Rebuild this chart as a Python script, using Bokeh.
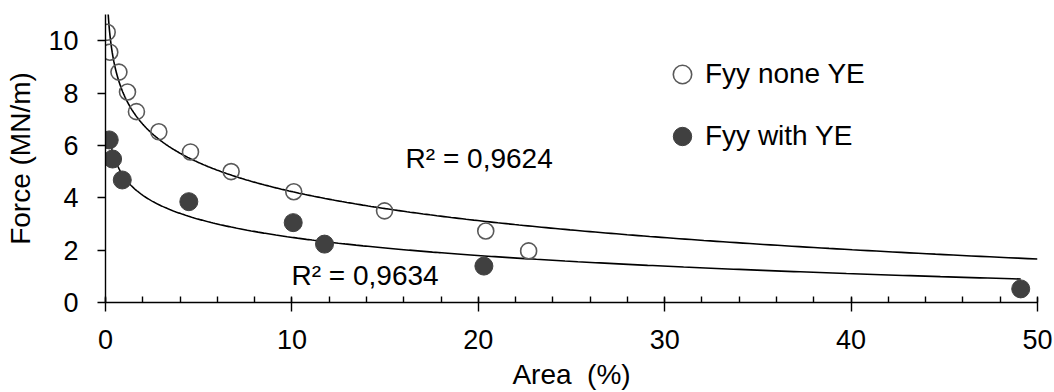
import numpy as np
from bokeh.plotting import figure
from bokeh.models import (Range1d, SingleIntervalTicker, Legend, LegendItem,
                          Label, ColumnDataSource)
from bokeh.embed import file_html
from bokeh.resources import INLINE

# ---- data ----
none_x = [0.09, 0.23, 0.72, 1.18, 1.66, 2.86, 4.56, 6.74, 10.1, 14.97, 20.4, 22.7]
none_y = [10.32, 9.56, 8.80, 8.04, 7.29, 6.52, 5.75, 5.00, 4.23, 3.50, 2.73, 1.97]
with_x = [0.20, 0.38, 0.90, 4.47, 10.07, 11.75, 20.3, 49.1]
with_y = [6.21, 5.48, 4.68, 3.85, 3.05, 2.23, 1.39, 0.52]

# logarithmic trendlines y = a*ln(x) + b (as shown in the picture)
trend_none = [-1.60, 7.92]
trend_with = [-1.00, 4.79]
r2_labels = ["R² = 0,9624", "R² = 0,9634"]

x_ticks_interval = 10
y_ticks_interval = 2

FONT = "Liberation Sans"

p = figure(width=1054, height=392, output_backend="svg", toolbar_location=None,
           x_range=Range1d(0, 50), y_range=Range1d(0, 11),
           min_border_left=105, min_border_right=17,
           min_border_top=14, min_border_bottom=90)
p.outline_line_color = None
p.grid.visible = False

# trendlines
xs_none = np.geomspace(min(none_x), 50, 600)
ys_none = trend_none[0] * np.log(xs_none) + trend_none[1]
xs_with = np.geomspace(min(with_x), max(with_x), 600)
ys_with = trend_with[0] * np.log(xs_with) + trend_with[1]
p.line(xs_none, ys_none, line_color="black", line_width=1.6)
p.line(xs_with, ys_with, line_color="black", line_width=1.6)

src_none = ColumnDataSource(dict(x=none_x, y=none_y))
src_with = ColumnDataSource(dict(x=with_x, y=with_y))
r_none = p.scatter("x", "y", source=src_none, size=16, marker="circle",
                   fill_color=None, line_color="#595959", line_width=1.6)
r_with = p.scatter("x", "y", source=src_with, size=18, marker="circle",
                   fill_color="#404040", line_color="#404040", line_width=1)

# axes
p.xaxis.ticker = SingleIntervalTicker(interval=x_ticks_interval, num_minor_ticks=5)
p.yaxis.ticker = SingleIntervalTicker(interval=y_ticks_interval, num_minor_ticks=0)
for ax in (p.xaxis[0], p.yaxis[0]):
    ax.axis_line_color = "black"
    ax.axis_line_width = 1.4
    ax.major_tick_line_color = "black"
    ax.major_tick_line_width = 1.4
    ax.minor_tick_line_color = "black"
    ax.minor_tick_line_width = 1.4
    ax.major_label_text_font = FONT
    ax.major_label_text_font_size = "27px"
    ax.major_label_text_color = "black"
    ax.axis_label_text_font = FONT
    ax.axis_label_text_font_size = "28px"
    ax.axis_label_text_font_style = "normal"
    ax.axis_label_text_color = "black"

p.xaxis.major_tick_in = 5
p.xaxis.major_tick_out = 9
p.xaxis.minor_tick_in = 6
p.xaxis.minor_tick_out = 0
p.xaxis.major_label_standoff = 18
p.xaxis.axis_label = "Area \u00a0(%)"
p.xaxis.axis_label_standoff = 7

p.yaxis.major_tick_in = 0
p.yaxis.major_tick_out = 8
p.yaxis.minor_tick_in = 0
p.yaxis.minor_tick_out = 0
p.yaxis.major_label_standoff = 19
p.yaxis.axis_label = "Force (MN/m)"
p.yaxis.axis_label_standoff = 9

legend = Legend(items=[LegendItem(label="Fyy none YE", renderers=[r_none]),
                       LegendItem(label="Fyy with YE", renderers=[r_with])],
                location=(554, 143), glyph_width=46, glyph_height=46,
                label_standoff=0, spacing=16, padding=0, margin=0,
                border_line_color=None, background_fill_alpha=0,
                label_text_font=FONT, label_text_font_size="28px",
                label_text_color="black")
p.add_layout(legend)

p.add_layout(Label(x=16.1, y=5.5, text=r2_labels[0], text_baseline="alphabetic",
                   text_font=FONT, text_font_size="28px", text_color="black"))
p.add_layout(Label(x=9.98, y=1.05, text=r2_labels[1], text_baseline="alphabetic",
                   text_font=FONT, text_font_size="28px", text_color="black"))

open("out.html", "w").write(file_html(p, INLINE))
